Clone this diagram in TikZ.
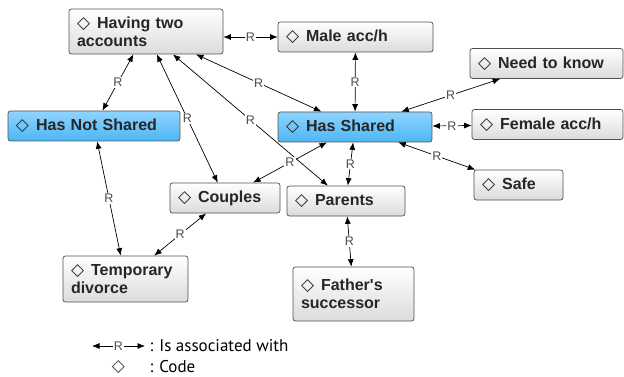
\documentclass[tikz,border=0pt]{standalone}
\usepackage{fontspec}
\setmainfont{Liberation Sans}
\newfontfamily\symfont{DejaVu Sans}
\newfontfamily\legfont{PT Sans}
\usetikzlibrary{arrows.meta}
\definecolor{boxline}{HTML}{505050}
\definecolor{blueTop}{HTML}{8FD4FF}
\definecolor{blueBot}{HTML}{4DB6F4}
\newcommand{\cd}{{\symfont\fontsize{17}{17}\mdseries\selectfont ◇}\hspace{7pt}}

\begin{document}
\begin{tikzpicture}[x=1pt, y=-1pt,
    code/.style={draw=boxline, line width=0.7pt, rounded corners=2.5pt,
      top color=white, bottom color=black!14, inner xsep=8pt, inner ysep=0pt,
      align=left, text=black!85, minimum height=30pt,
      font=\fontsize{16}{18}\bfseries\selectfont},
    shared/.style={code, top color=blueTop, bottom color=blueBot},
    rel/.style={{Latex[length=7.5pt,width=6pt]}-{Latex[length=7.5pt,width=6pt]}, line width=0.7pt},
    rlab/.style={fill=white, inner sep=1pt, text=black!70, font=\fontsize{12.5}{12.5}\selectfont}]
  \useasboundingbox (0,0) rectangle (624,377);

  \node[code, text width=138pt, minimum height=45pt] (having) at (146,31.5) {\cd Having two\\accounts};
  \node[code, text width=139pt] (male) at (355.5,37) {\cd Male acc/h};
  \node[code, text width=137pt] (need) at (546.5,63.5) {\cd Need to know};
  \node[shared, text width=156pt] (hasnot) at (94,126) {\cd Has Not Shared};
  \node[shared, text width=138pt] (hasshared) at (355,127) {\cd Has Shared};
  \node[code, text width=135pt] (female) at (547.5,124.5) {\cd Female acc/h};
  \node[code, text width=73pt] (safe) at (518.5,185) {\cd Safe};
  \node[code, text width=94pt] (couples) at (225,198) {\cd Couples};
  \node[code, text width=102pt] (parents) at (346,201) {\cd Parents};
  \node[code, text width=109pt, minimum height=46pt] (divorce) at (125.5,279) {\cd Temporary\\divorce};
  \node[code, text width=105pt, minimum height=54pt] (father) at (353.5,294) {\cd Father\textquotesingle s\\successor\\[6pt]};

  \draw[rel] (having.east |- male.west) -- node[rlab] {R} (male.west);
  \draw[rel] (having) -- node[rlab] {R} (hasnot);
  \draw[rel] (having) -- node[rlab] {R} (couples);
  \draw[rel] (having) -- node[rlab] {R} (parents);
  \draw[rel] (having) -- node[rlab] {R} (hasshared);
  \draw[rel] (hasshared) -- node[rlab] {R} (male);
  \draw[rel] (hasshared) -- node[rlab] {R} (need);
  \draw[rel] (hasshared) -- node[rlab] {R} (female);
  \draw[rel] (hasshared) -- node[rlab] {R} (safe);
  \draw[rel] (hasshared) -- node[rlab] {R} (couples);
  \draw[rel] (hasshared) -- node[rlab] {R} (parents);
  \draw[rel] (hasnot) -- node[rlab] {R} (divorce);
  \draw[rel] (couples) -- node[rlab] {R} (divorce);
  \draw[rel] (parents) -- node[rlab] {R} (father);

  \coordinate (legA) at (92,346);
  \coordinate (legB) at (145,346);
  \draw[rel] (legA) -- node[rlab] {R} (legB);
  \node[anchor=west, font=\legfont\fontsize{17}{17}\selectfont] (legrel) at (146,346) {: Is associated with};
  \node[font=\symfont\fontsize{17}{17}\selectfont, text=black!75] (legsym) at (118.5,367) {◇};
  \node[anchor=west, font=\legfont\fontsize{17}{17}\selectfont] (legcode) at (146,367) {: Code};
\end{tikzpicture}
\end{document}
